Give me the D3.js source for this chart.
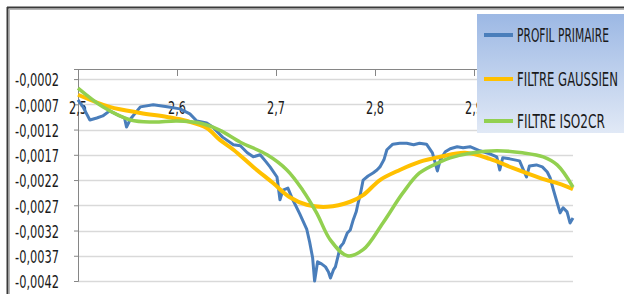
<!DOCTYPE html>
<html>
<head>
<meta charset="utf-8">
<script src="https://cdn.jsdelivr.net/npm/d3@7"></script>
<style>
  html, body { margin: 0; padding: 0; background: #fff; }
  svg { display: block; }
  text { font-family: "Liberation Sans Narrow", "DejaVu Sans Condensed", sans-serif; fill: #1a1a1a; }
</style>
</head>
<body>
<svg id="chart" width="624" height="294"></svg>
<script>
// --- data (x in mm, y in mm) ---
const profilX = [2.500, 2.505, 2.512, 2.519, 2.525, 2.532, 2.542, 2.547, 2.549, 2.553, 2.563, 2.576, 2.590, 2.603, 2.613, 2.620, 2.630, 2.636, 2.646, 2.657, 2.664, 2.671, 2.677, 2.684, 2.690, 2.694, 2.701, 2.704, 2.707, 2.712, 2.717, 2.724, 2.731, 2.734, 2.737, 2.739, 2.742, 2.746, 2.750, 2.753, 2.755, 2.758, 2.760, 2.765, 2.768, 2.772, 2.775, 2.778, 2.781, 2.783, 2.785, 2.788, 2.793, 2.798, 2.802, 2.805, 2.809, 2.812, 2.818, 2.825, 2.832, 2.839, 2.845, 2.852, 2.858, 2.863, 2.866, 2.871, 2.876, 2.883, 2.889, 2.896, 2.906, 2.916, 2.923, 2.926, 2.929, 2.936, 2.946, 2.953, 2.956, 2.963, 2.969, 2.974, 2.977, 2.980, 2.984, 2.987, 2.990, 2.994, 2.997, 3.000];
const profilY = [-0.00061, -0.00075, -0.00101, -0.00097, -0.00093, -0.00083, -0.00093, -0.00097, -0.00115, -0.00099, -0.00075, -0.00071, -0.00075, -0.00079, -0.00089, -0.00103, -0.00107, -0.00115, -0.00135, -0.00150, -0.00152, -0.00166, -0.00174, -0.00170, -0.00184, -0.00194, -0.00214, -0.00259, -0.00240, -0.00236, -0.00259, -0.00287, -0.00317, -0.00343, -0.00374, -0.00420, -0.00382, -0.00386, -0.00392, -0.00402, -0.00414, -0.00398, -0.00392, -0.00352, -0.00345, -0.00325, -0.00319, -0.00299, -0.00283, -0.00265, -0.00250, -0.00220, -0.00212, -0.00206, -0.00200, -0.00194, -0.00180, -0.00160, -0.00149, -0.00147, -0.00147, -0.00150, -0.00147, -0.00149, -0.00166, -0.00202, -0.00180, -0.00164, -0.00158, -0.00154, -0.00156, -0.00154, -0.00162, -0.00168, -0.00174, -0.00200, -0.00176, -0.00178, -0.00182, -0.00214, -0.00192, -0.00190, -0.00194, -0.00204, -0.00216, -0.00238, -0.00265, -0.00285, -0.00275, -0.00283, -0.00305, -0.00295];

const gaussX = [2.500, 2.532, 2.563, 2.590, 2.610, 2.630, 2.643, 2.657, 2.677, 2.697, 2.714, 2.731, 2.752, 2.775, 2.788, 2.805, 2.825, 2.845, 2.866, 2.891, 2.916, 2.939, 2.967, 2.990, 3.000];
const gaussY = [-0.00051, -0.00075, -0.00087, -0.00095, -0.00103, -0.00117, -0.00140, -0.00160, -0.00194, -0.00226, -0.00254, -0.00269, -0.00273, -0.00263, -0.00250, -0.00220, -0.00200, -0.00184, -0.00174, -0.00166, -0.00178, -0.00196, -0.00216, -0.00230, -0.00238];

const isoX = [2.500, 2.525, 2.553, 2.576, 2.600, 2.623, 2.643, 2.664, 2.691, 2.711, 2.727, 2.741, 2.755, 2.772, 2.788, 2.808, 2.828, 2.845, 2.866, 2.876, 2.899, 2.923, 2.949, 2.970, 2.984, 3.000];
const isoY = [-0.00038, -0.00075, -0.00101, -0.00105, -0.00103, -0.00107, -0.00121, -0.00145, -0.00170, -0.00200, -0.00240, -0.00285, -0.00339, -0.00370, -0.00358, -0.00305, -0.00246, -0.00206, -0.00184, -0.00176, -0.00166, -0.00162, -0.00166, -0.00174, -0.00190, -0.00234];

const seriesNames = ["PROFIL PRIMAIRE", "FILTRE GAUSSIEN", "FILTRE ISO2CR"];
const seriesColors = ["#4a7ebb", "#ffc000", "#92d050"];
const xTicks = [2.5, 2.6, 2.7, 2.8, 2.9, 3.0];
const xLabelTicks = [2.5, 2.6, 2.7, 2.8, 2.9]; // 3,0 sits under the legend
const yTicks = [-0.0002, -0.0007, -0.0012, -0.0017, -0.0022, -0.0027, -0.0032, -0.0037, -0.0042];

const svg = d3.select("#chart");
const plot = { left: 78, right: 573, top: 69, bottom: 281 };

// squeeze a text horizontally around its anchor x (the original face is narrower)
function squeeze(sel, w) {
  sel.each(function() {
    const nat = this.getComputedTextLength();
    if (nat > w) {
      const ax = +(this.getAttribute("x") || 0);
      const s = w / nat;
      d3.select(this).attr("transform", `translate(${ax},0) scale(${s},1) translate(${-ax},0)`);
    }
  });
}

// chart frame (dark edge + soft shadow line)
svg.append("line").attr("x1", 7).attr("x2", 624).attr("y1", 7.5).attr("y2", 7.5)
   .attr("stroke", "#3a3a3a").attr("stroke-width", 2);
svg.append("line").attr("x1", 9).attr("x2", 624).attr("y1", 9.5).attr("y2", 9.5)
   .attr("stroke", "#b5b5b5").attr("stroke-width", 1);
svg.append("line").attr("x1", 7.5).attr("x2", 7.5).attr("y1", 7).attr("y2", 294)
   .attr("stroke", "#3a3a3a").attr("stroke-width", 2);
svg.append("line").attr("x1", 9.5).attr("x2", 9.5).attr("y1", 9).attr("y2", 294)
   .attr("stroke", "#b5b5b5").attr("stroke-width", 1);

const x = d3.scaleLinear().domain([2.5, 3.0]).range([plot.left, plot.right]);
const y = d3.scaleLinear().domain([-0.0042, 0]).range([plot.bottom, plot.top]);

const fmt = v => v.toFixed(4).replace(".", ",");

// horizontal gridlines
svg.append("g").selectAll("line").data(yTicks).join("line")
   .attr("x1", plot.left).attr("x2", plot.right)
   .attr("y1", d => Math.round(y(d)) + 0.5).attr("y2", d => Math.round(y(d)) + 0.5)
   .attr("stroke", "#d9d9d9").attr("stroke-width", 1.5);

// y axis
const yAxis = svg.append("g").attr("transform", `translate(${plot.left},0)`)
   .call(d3.axisLeft(y).tickValues(yTicks).tickSize(4).tickPadding(15).tickFormat(fmt));
yAxis.select(".domain").attr("stroke", "#868686");
yAxis.selectAll(".tick line").attr("stroke", "#868686");
yAxis.selectAll("text").attr("font-size", 17).attr("dy", "0.4em")
   .style("font-family", '"Liberation Sans Narrow", "DejaVu Sans Condensed", sans-serif').attr("fill", "#1a1a1a")
   .call(squeeze, 44);

// x axis at y = 0 (top), ticks pointing into the plot, labels pushed lower
const xAxis = svg.append("g").attr("transform", `translate(0,${y(0)})`)
   .call(d3.axisBottom(x).tickValues(xTicks).tickSize(7).tickFormat(() => ""));
xAxis.select(".domain").attr("stroke", "#868686");
xAxis.selectAll(".tick line").attr("stroke", "#868686");
svg.append("g").selectAll("text").data(xLabelTicks).join("text")
   .attr("x", d => x(d)).attr("y", y(0) + 39).attr("dy", "0.35em")
   .attr("text-anchor", "middle").attr("font-size", 17)
   .text(d => d.toFixed(1).replace(".", ","))
   .call(squeeze, 18);

// series
const pairs = (xs, ys) => xs.map((v, i) => [v, ys[i]]);
const lineLin = d3.line().x(d => x(d[0])).y(d => y(d[1]));
const lineSmooth = d3.line().x(d => x(d[0])).y(d => y(d[1])).curve(d3.curveCatmullRom.alpha(0.5));

svg.append("path").datum(pairs(profilX, profilY)).attr("d", lineLin)
   .attr("fill", "none").attr("stroke", seriesColors[0]).attr("stroke-width", 3)
   .attr("stroke-linejoin", "round");
svg.append("path").datum(pairs(gaussX, gaussY)).attr("d", lineSmooth)
   .attr("fill", "none").attr("stroke", seriesColors[1]).attr("stroke-width", 4)
   .attr("stroke-linejoin", "round");
svg.append("path").datum(pairs(isoX, isoY)).attr("d", lineSmooth)
   .attr("fill", "none").attr("stroke", seriesColors[2]).attr("stroke-width", 3.5)
   .attr("stroke-linejoin", "round");

// legend with blue gradient
const defs = svg.append("defs");
const grad = defs.append("linearGradient").attr("id", "legGrad")
   .attr("x1", 0).attr("x2", 0).attr("y1", 0).attr("y2", 1);
grad.append("stop").attr("offset", "0%").attr("stop-color", "#9cb8e4");
grad.append("stop").attr("offset", "100%").attr("stop-color", "#e1e9f6");

const legend = svg.append("g").attr("transform", "translate(477,14)");
legend.append("rect").attr("width", 147).attr("height", 119).attr("fill", "url(#legGrad)");
const rowY = [21, 65, 107];
const textW = [92, 101, 88];
seriesNames.forEach((name, i) => {
  legend.append("line").attr("x1", 7).attr("x2", 36).attr("y1", rowY[i]).attr("y2", rowY[i])
     .attr("stroke", seriesColors[i]).attr("stroke-width", 4);
  legend.append("text").attr("x", 40).attr("y", rowY[i]).attr("dy", "0.36em")
     .attr("font-size", 19).text(name).call(squeeze, textW[i]);
});
</script>
</body>
</html>
